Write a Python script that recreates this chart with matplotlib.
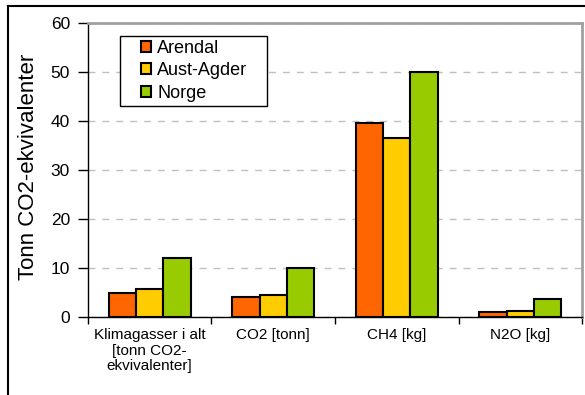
import matplotlib.pyplot as plt
import numpy as np
from matplotlib.lines import Line2D
from matplotlib.patches import Rectangle

plt.rcParams['font.family'] = ['Liberation Sans', 'DejaVu Sans']

# data
categories = [
    "Klimagasser i alt\n[tonn CO2-\nekvivalenter]",
    "CO2 [tonn]",
    "CH4 [kg]",
    "N2O [kg]",
]
arendal = [4.9, 4.1, 39.6, 0.9]
aust_agder = [5.7, 4.5, 36.4, 1.2]
norge = [11.9, 9.9, 50.0, 3.7]

series = ["Arendal", "Aust-Agder", "Norge"]
colors = ["#FF6600", "#FFCC00", "#99CC00"]

fig = plt.figure(figsize=(5.85, 3.95), dpi=100)
ax = fig.add_axes([0.1504, 0.198, 0.8445, 0.7445])

# frame around the whole chart (top and left edge)
fig.add_artist(Line2D([0.0137, 1.0], [0.985, 0.985], color="black", lw=1.5))
fig.add_artist(Line2D([0.0137, 0.0137], [0.0, 0.985], color="black", lw=1.5))

x = np.arange(len(categories))
width = 1 / 4.5
for i, (vals, name, col) in enumerate(zip([arendal, aust_agder, norge], series, colors)):
    ax.bar(x + (i - 1) * width, vals, width, color=col, edgecolor="black",
           linewidth=1.5, label=name, zorder=3)

ax.set_xlim(-0.5, len(categories) - 0.5)
ax.set_ylim(0, 60)
ax.set_yticks(range(0, 61, 10))
ax.tick_params(axis="y", labelsize=12.5, length=7, width=1, direction="out", pad=6)

# category boundaries as ticks, labels centred on groups
ax.set_xticks(np.arange(-0.5, len(categories), 1.0))
ax.set_xticklabels([])
ax.set_xticks(x, minor=True)
ax.set_xticklabels(categories, minor=True, fontsize=11, linespacing=1.15)
ax.tick_params(axis="x", which="major", length=5, width=1, direction="out")
ax.tick_params(axis="x", which="minor", length=0, pad=8)

ax.yaxis.grid(True, color="#C0C0C0", linestyle=(0, (5, 5)), linewidth=1, zorder=0)
ax.set_axisbelow(True)

for side in ["top", "right"]:
    ax.spines[side].set_color("#A0A0A0")
    ax.spines[side].set_linewidth(2)
for side in ["left", "bottom"]:
    ax.spines[side].set_color("black")
    ax.spines[side].set_linewidth(1)

ax.set_ylabel("Tonn CO2-ekvivalenter", fontsize=16)
ax.yaxis.set_label_coords(-0.10, 0.51)

# legend box drawn separately so its padding can be wide
fig.add_artist(Rectangle((0.2051, 0.7316), 0.2513, 0.1772, transform=fig.transFigure,
                         facecolor="white", edgecolor="black", linewidth=1, zorder=4))
leg = fig.legend(loc="upper left", bbox_to_anchor=(0.241, 0.899), fontsize=13,
                 frameon=False, handlelength=0.55, handleheight=0.55,
                 handletextpad=0.35, labelspacing=0.3, borderpad=0, borderaxespad=0)
leg.set_zorder(5)

fig.savefig("out.png", dpi=100)
